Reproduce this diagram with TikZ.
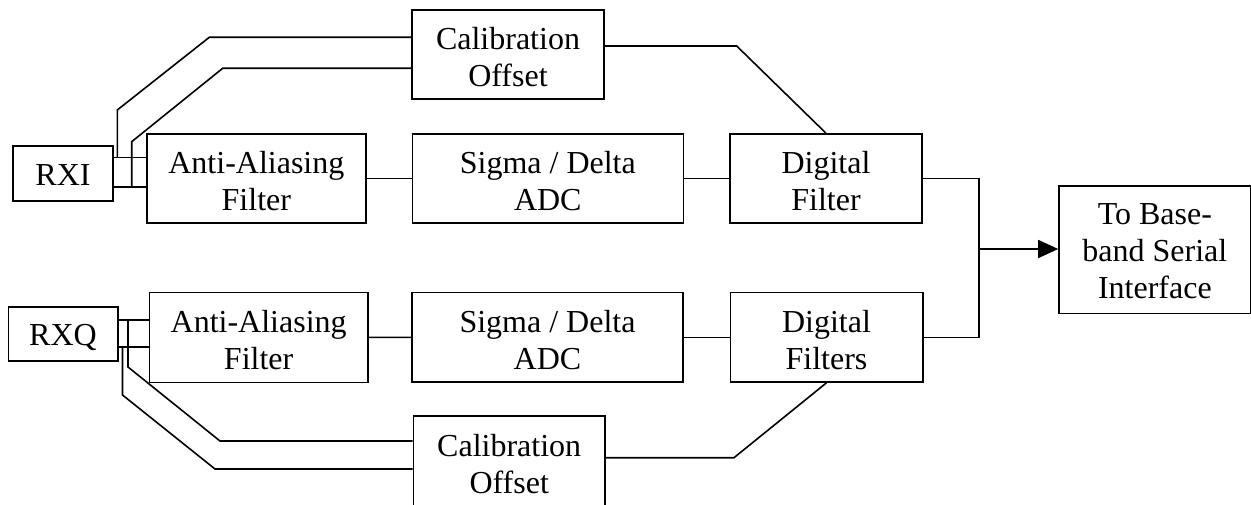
\documentclass[tikz,border=0pt]{standalone}
\usepackage{fontspec}
\setmainfont{Liberation Serif}
\usetikzlibrary{arrows.meta}
\newcommand{\TopS}[1]{\rule{0pt}{#1pt}}
\newcommand{\BotS}[1]{\rule[-#1pt]{0pt}{#1pt}}
\begin{document}
\begin{tikzpicture}[x=1pt,y=-1pt,
  blk/.style={draw,line width=1.6pt,inner sep=0pt,align=center,
    font=\fontsize{32}{37}\selectfont},
  wire/.style={line width=1.6pt,line join=miter}]
\useasboundingbox (0,0) rectangle (1251,505);
% nodes
\node[blk,minimum width=100pt,minimum height=55pt] (rxi) at (63,173.5) {\TopS{32}RXI\BotS{8}};
\node[blk,minimum width=219.3pt,minimum height=89.3pt] (aaf1) at (256.35,178.65) {\TopS{33}Anti-Aliasing\\Filter\BotS{6}};
\node[blk,minimum width=271pt,minimum height=89.3pt] (sd1) at (547.8,178.65) {\TopS{33}Sigma / Delta\\ADC\BotS{6}};
\node[blk,minimum width=192pt,minimum height=89.3pt] (df1) at (826,178.65) {\TopS{33}Digital\\Filter\BotS{6}};
\node[blk,minimum width=192pt,minimum height=89.3pt] (cal1) at (508,54.65) {\TopS{33}Calibration\\Offset\BotS{6}};
\node[blk,minimum width=109.4pt,minimum height=54pt] (rxq) at (63,333.7) {\TopS{32}RXQ\BotS{8}};
\node[blk,minimum width=218.7pt,minimum height=89.6pt] (aaf2) at (258.65,337.5) {\TopS{33}Anti-Aliasing\\Filter\BotS{6}};
\node[blk,minimum width=271pt,minimum height=89.3pt] (sd2) at (547.5,337.35) {\TopS{33}Sigma / Delta\\ADC\BotS{6}};
\node[blk,minimum width=192.4pt,minimum height=89.3pt] (df2) at (826.5,337.35) {\TopS{33}Digital\\Filters\BotS{6}};
\node[blk,minimum width=191.7pt,minimum height=91.5pt] (cal2) at (509.2,461.45) {\TopS{33}Calibration\\Offset\BotS{6}};
\node[blk,minimum width=191.7pt,minimum height=127.3pt] (out) at (1154.85,249.65) {\TopS{30}To Base-\\band Serial\\Interface\BotS{6}};
% bend coordinates
\coordinate (ia1) at (117.3,157.5);
\coordinate (ia2) at (117.3,110);
\coordinate (ia3) at (209.3,37.3);
\coordinate (ib1) at (131.7,187.3);
\coordinate (ib2) at (131.7,141.7);
\coordinate (ib3) at (222.7,68.3);
\coordinate (qa1) at (128,320);
\coordinate (qa2) at (128,367);
\coordinate (qa3) at (220,441);
\coordinate (qb1) at (122.5,347);
\coordinate (qb2) at (122.5,395);
\coordinate (qb3) at (215,469);
\coordinate (c1b) at (736.7,46);
\coordinate (c2b) at (734,457.7);
\coordinate (jx) at (979,249);
% I channel
\draw[wire] (rxi.east |- ia1) -- (aaf1.west |- ia1);
\draw[wire] (rxi.east |- ib1) -- (aaf1.west |- ib1);
\draw[wire] (ia1) -- (ia2) -- (ia3) -- (cal1.west |- ia3);
\draw[wire] (ib1) -- (ib2) -- (ib3) -- (cal1.west |- ib3);
\draw[wire] (aaf1) -- (sd1);
\draw[wire] (sd1) -- (df1);
\draw[wire] (cal1.east |- c1b) -- (c1b) -- (df1.north);
% Q channel
\draw[wire] (rxq.east |- qa1) -- (aaf2.west |- qa1);
\draw[wire] (rxq.east |- qb1) -- (aaf2.west |- qb1);
\draw[wire] (qa1) -- (qa2) -- (qa3) -- (cal2.west |- qa3);
\draw[wire] (qb1) -- (qb2) -- (qb3) -- (cal2.west |- qb3);
\draw[wire] (aaf2) -- (sd2);
\draw[wire] (sd2) -- (df2);
\draw[wire] (df2.south) -- (c2b) -- (cal2.east |- c2b);
% merge
\draw[wire] (df1.east) -- (jx |- df1.east) -- (jx |- df2.east) -- (df2.east);
\draw[wire,-{Triangle[length=20pt,width=18pt]}] (jx) -- (out.west |- jx);
\end{tikzpicture}
\end{document}
